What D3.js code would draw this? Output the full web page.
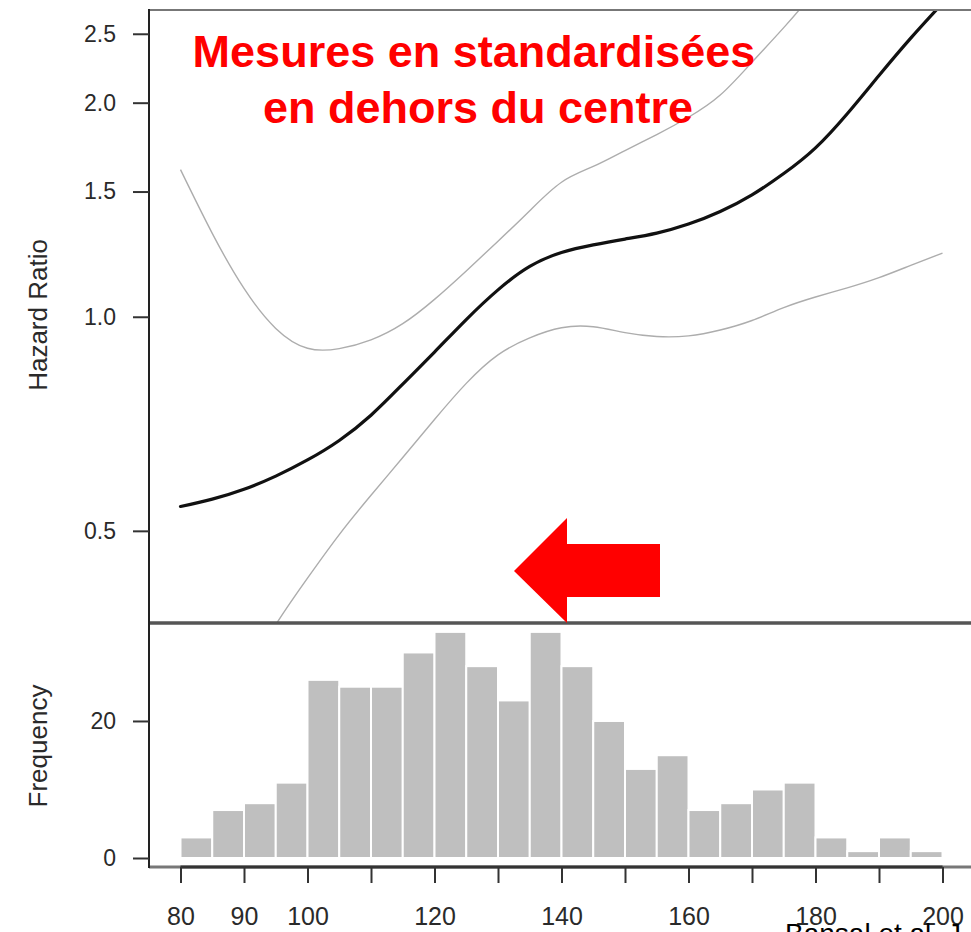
<!DOCTYPE html>
<html>
<head>
<meta charset="utf-8">
<script src="https://cdn.jsdelivr.net/npm/d3@7"></script>
<style>
  html, body { margin: 0; padding: 0; background: #fff; }
  svg { display: block; font-family: "Liberation Sans", Arial, Helvetica, sans-serif; }
</style>
</head>
<body>
<svg id="chart" width="971" height="932"></svg>
<script>
// Systolic blood pressure grid (mmHg) for the spline hazard ratio curve
const sbp = [80, 85, 90, 95, 100, 105, 110, 115, 120, 125, 130, 135, 140,
             145, 150, 155, 160, 165, 170, 175, 180, 185, 190, 195, 200];
// Hazard ratio estimate and 95% confidence band
const hazardRatio = [0.541, 0.554, 0.572, 0.597, 0.629, 0.670, 0.727, 0.804, 0.892, 0.991,
                     1.091, 1.177, 1.231, 1.262, 1.286, 1.311, 1.350, 1.406, 1.484, 1.590,
                     1.728, 1.930, 2.184, 2.465, 2.760];
const upperCI = [1.61, 1.31, 1.096, 0.963, 0.903, 0.902, 0.928, 0.978, 1.058, 1.16,
                 1.277, 1.41, 1.546, 1.627, 1.713, 1.804, 1.908, 2.05, 2.28, 2.55,
                 2.88, 3.3, 3.8, 4.4, 5.1];
const lowerCI = [0.21, 0.257, 0.31, 0.369, 0.429, 0.494, 0.561, 0.634, 0.717, 0.806,
                 0.884, 0.934, 0.965, 0.968, 0.950, 0.938, 0.940, 0.958, 0.988, 1.03,
                 1.066, 1.098, 1.135, 1.181, 1.229];

// Histogram of measured values: bin left edges (width 5 mmHg) and counts
const binStarts = [80, 85, 90, 95, 100, 105, 110, 115, 120, 125, 130, 135,
                   140, 145, 150, 155, 160, 165, 170, 175, 180, 185, 190, 195];
const binWidth = 5;
const counts = [3, 7, 8, 11, 26, 25, 25, 30, 33, 28, 23, 33,
                28, 20, 13, 15, 7, 8, 10, 11, 3, 1, 3, 1];

// Axis ticks
const hrTicks = [0.5, 1.0, 1.5, 2.0, 2.5];
const freqTicks = [0, 20];
const xTicks = [80, 90, 100, 110, 120, 130, 140, 150, 160, 170, 180, 190, 200];
const xTickLabels = [80, 90, 100, 120, 140, 160, 180, 200];

// Annotation texts
const titleLines = ["Mesures en standardisées", "en dehors du centre"];
const sourceNote = "Bansal et al. J";

(function draw() {
  const svg = d3.select("#chart");
  svg.append("rect").attr("width", 971).attr("height", 932).attr("fill", "#fff");

  // Panel geometry
  const pLeft = 149, pRight = 972, pTop = 10, pSplit = 623, histBase = 858, pBottom = 867;

  const x = d3.scaleLinear().domain([80, 200]).range([180.5, 942.5]);
  const yHR = d3.scaleLog().domain([0.371, 2.70]).range([pSplit, pTop]);
  const yFreq = d3.scaleLinear().domain([0, 34.3]).range([histBase, pSplit]);

  // Clip for the hazard ratio panel
  svg.append("defs").append("clipPath").attr("id", "topClip")
    .append("rect").attr("x", pLeft).attr("y", pTop)
    .attr("width", pRight - pLeft).attr("height", pSplit - pTop);

  // Histogram bars
  svg.append("g").selectAll("rect")
    .data(binStarts.map((b, i) => ({ b, c: counts[i] })))
    .join("rect")
    .attr("x", d => x(d.b))
    .attr("width", d => x(d.b + binWidth) - x(d.b))
    .attr("y", d => yFreq(d.c))
    .attr("height", d => yFreq(0) - yFreq(d.c))
    .attr("fill", "#bfbfbf")
    .attr("stroke", "#fff")
    .attr("stroke-width", 2);

  // Spline curves
  const line = vals => d3.line()
    .x((d, i) => x(sbp[i]))
    .y(d => yHR(d))
    .curve(d3.curveNatural)(vals);

  const curves = svg.append("g").attr("clip-path", "url(#topClip)");
  curves.append("path").attr("d", line(upperCI))
    .attr("fill", "none").attr("stroke", "#adadad").attr("stroke-width", 1.4);
  curves.append("path").attr("d", line(lowerCI))
    .attr("fill", "none").attr("stroke", "#adadad").attr("stroke-width", 1.4);
  curves.append("path").attr("d", line(hazardRatio))
    .attr("fill", "none").attr("stroke", "#111").attr("stroke-width", 3.2)
    .attr("stroke-linecap", "round");

  // Frame lines
  svg.append("line").attr("x1", pLeft).attr("x2", pRight).attr("y1", pTop).attr("y2", pTop)
    .attr("stroke", "#777").attr("stroke-width", 2);
  svg.append("line").attr("x1", pLeft).attr("x2", pRight).attr("y1", pSplit).attr("y2", pSplit)
    .attr("stroke", "#555").attr("stroke-width", 3.5);
  svg.append("line").attr("x1", pLeft).attr("x2", pRight).attr("y1", pBottom).attr("y2", pBottom)
    .attr("stroke", "#777").attr("stroke-width", 3);
  svg.append("line").attr("x1", x(80)).attr("x2", x(200)).attr("y1", pBottom).attr("y2", pBottom)
    .attr("stroke", "#333").attr("stroke-width", 3);
  svg.append("line").attr("x1", pLeft).attr("x2", pLeft).attr("y1", pTop - 1).attr("y2", pBottom + 1)
    .attr("stroke", "#222").attr("stroke-width", 2);

  function styleAxis(g, fontSize) {
    g.select(".domain").remove();
    g.selectAll(".tick line").attr("stroke", "#333").attr("stroke-width", 2);
    g.selectAll(".tick text").attr("fill", "#2a2a2a").attr("font-size", fontSize)
      .attr("font-family", "Liberation Sans, Arial, sans-serif");
  }

  // Hazard ratio axis
  svg.append("g").attr("transform", `translate(${pLeft},0)`)
    .call(d3.axisLeft(yHR).tickValues(hrTicks).tickFormat(d3.format(".1f"))
      .tickSize(16).tickPadding(17))
    .call(g => styleAxis(g, 23));

  // Frequency axis
  svg.append("g").attr("transform", `translate(${pLeft},0)`)
    .call(d3.axisLeft(yFreq).tickValues(freqTicks).tickFormat(d3.format("d"))
      .tickSize(16).tickPadding(17))
    .call(g => styleAxis(g, 23));

  // x axis
  svg.append("g").attr("transform", `translate(0,${pBottom})`)
    .call(d3.axisBottom(x).tickValues(xTicks)
      .tickFormat(d => xTickLabels.includes(d) ? String(d) : "")
      .tickSize(16).tickPadding(24))
    .call(g => styleAxis(g, 25));

  // Axis titles
  svg.append("text").attr("transform", "translate(47,315) rotate(-90)")
    .attr("text-anchor", "middle").attr("font-size", 26).attr("fill", "#2a2a2a")
    .text("Hazard Ratio");
  svg.append("text").attr("transform", "translate(47,746) rotate(-90)")
    .attr("text-anchor", "middle").attr("font-size", 26).attr("fill", "#2a2a2a")
    .text("Frequency");

  // Red annotation
  const title = svg.append("g").attr("fill", "#ff0000").attr("font-weight", "bold")
    .attr("font-size", 45).attr("text-anchor", "middle");
  title.append("text").attr("x", 474).attr("y", 67).text(titleLines[0]);
  title.append("text").attr("x", 478).attr("y", 123).text(titleLines[1]);

  const arrow = [[514, 571], [567, 518], [567, 544], [660, 544], [660, 597], [567, 597], [567, 623]];
  svg.append("polygon").attr("points", arrow.map(p => p.join(",")).join(" "))
    .attr("fill", "#ff0000");

  // Source note along the bottom edge
  svg.append("text").attr("x", 785).attr("y", 943).attr("font-size", 28)
    .attr("fill", "#000").text(sourceNote);
})();
</script>
</body>
</html>
